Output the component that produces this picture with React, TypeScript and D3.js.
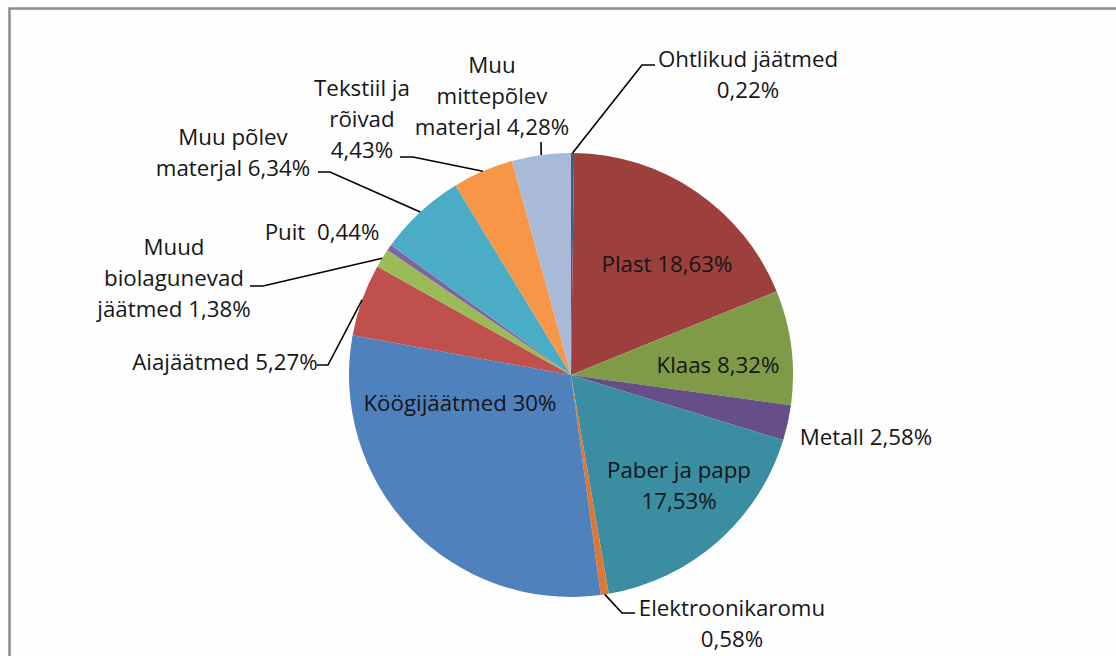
import React, { useEffect, useRef } from "react";
import * as d3 from "d3";

// waste composition, clockwise from 12 o'clock
const categories = [
  "Ohtlikud jäätmed",
  "Plast",
  "Klaas",
  "Metall",
  "Paber ja papp",
  "Elektroonikaromu",
  "Köögijäätmed",
  "Aiajäätmed",
  "Muud biolagunevad jäätmed",
  "Puit",
  "Muu põlev materjal",
  "Tekstiil ja rõivad",
  "Muu mittepõlev materjal",
];
const shares = [0.22, 18.63, 8.32, 2.58, 17.53, 0.58, 30, 5.27, 1.38, 0.44, 6.34, 4.43, 4.28];
const valueLabels = [
  "0,22%", "18,63%", "8,32%", "2,58%", "17,53%", "0,58%", "30%",
  "5,27%", "1,38%", "0,44%", "6,34%", "4,43%", "4,28%",
];
const sliceColors = [
  "#376092", "#9D3F3C", "#7F9B48", "#664F86", "#3B8DA1", "#DC7833", "#4F81BD",
  "#C0504D", "#9BBB59", "#8064A2", "#4BACC6", "#F79646", "#A9BAD8",
];

// label text lines, label centre and leader elbow (layout only)
const labelLayout: { lines: string[]; x: number; y: number; leader?: [number, number][] }[] = [
  { lines: ["Ohtlikud jäätmed", "0,22%"], x: 748, y: 59, leader: [[642, 65], [655, 65]] },
  { lines: ["Plast 18,63%"], x: 667, y: 264 },
  { lines: ["Klaas 8,32%"], x: 718, y: 365 },
  { lines: ["Metall 2,58%"], x: 866, y: 437 },
  { lines: ["Paber ja papp", "17,53%"], x: 679, y: 470 },
  { lines: ["Elektroonikaromu", "0,58%"], x: 732, y: 608, leader: [[622, 613], [635, 613]] },
  { lines: ["Köögijäätmed 30%"], x: 460, y: 403 },
  { lines: ["Aiajäätmed 5,27%"], x: 225, y: 362, leader: [[328, 365], [317, 365]] },
  { lines: ["Muud", "biolagunevad", "jäätmed 1,38%"], x: 174, y: 247, leader: [[263, 286], [250, 286]] },
  { lines: ["Puit  0,44%"], x: 322, y: 232 },
  { lines: ["Muu põlev", "materjal 6,34%"], x: 233, y: 137, leader: [[330, 172], [318, 172]] },
  { lines: ["Tekstiil ja", "rõivad", "4,43%"], x: 362, y: 88, leader: [[413, 157], [400, 157]] },
  { lines: ["Muu", "mittepõlev", "materjal 4,28%"], x: 492, y: 65, leader: [[541, 142]] },
];

const W = 1116;
const H = 656;
const cx = 571;
const cy = 375;
const radius = 222;
const lineGap = 31;

export default function App() {
  const svgRef = useRef<SVGSVGElement>(null);

  useEffect(() => {
    const svg = d3.select(svgRef.current);
    svg.selectAll("*").remove();

    svg.append("rect").attr("width", W).attr("height", H).attr("fill", "#fefefe");
    // chart frame, runs off the right and bottom edges
    svg
      .append("rect")
      .attr("x", 9.5)
      .attr("y", 8.5)
      .attr("width", W + 20)
      .attr("height", H + 20)
      .attr("fill", "none")
      .attr("stroke", "#8c8c8c")
      .attr("stroke-width", 2.5);

    const pie = d3
      .pie<number>()
      .sort(null)
      .value((d) => d);
    const arcs = pie(shares);
    const arc = d3.arc<d3.PieArcDatum<number>>().innerRadius(0).outerRadius(radius);

    const g = svg.append("g").attr("transform", `translate(${cx},${cy})`);
    g.selectAll("path")
      .data(arcs)
      .enter()
      .append("path")
      .attr("d", arc)
      .attr("fill", (d, i) => sliceColors[i]);

    // leader lines start on the rim at the slice middle
    const line = d3.line();
    labelLayout.forEach((lab, i) => {
      if (!lab.leader) return;
      const a = (arcs[i].startAngle + arcs[i].endAngle) / 2;
      const start: [number, number] = [cx + radius * Math.sin(a), cy - radius * Math.cos(a)];
      svg
        .append("path")
        .attr("d", line([start, ...lab.leader]))
        .attr("fill", "none")
        .attr("stroke", "#000")
        .attr("stroke-width", 1.6);
    });

    labelLayout.forEach((lab) => {
      const t = svg
        .append("text")
        .attr("font-family", "'Open Sans', sans-serif")
        .attr("font-size", 22.3)
        .attr("fill", "#161616")
        .attr("text-anchor", "middle");
      lab.lines.forEach((s, j) => {
        t.append("tspan")
          .attr("x", lab.x)
          .attr("y", lab.y + j * lineGap)
          .attr("dy", "0.35em")
          .attr("xml:space", "preserve")
          .text(s);
      });
    });
  }, []);

  return (
    <svg
      ref={svgRef}
      width={W}
      height={H}
      style={{ position: "absolute", left: 0, top: 0 }}
    />
  );
}
